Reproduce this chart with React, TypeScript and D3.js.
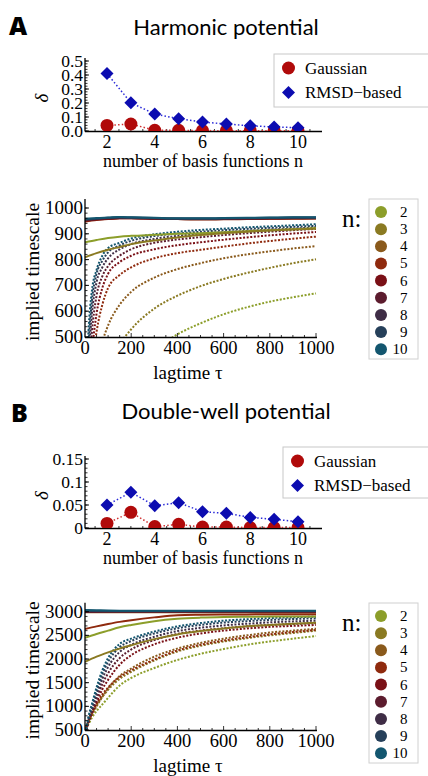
import React from 'react';
import * as d3 from 'd3';

// basis set sizes and the two error measures (delta)
const basisN = [2, 3, 4, 5, 6, 7, 8, 9, 10];
const harmonicGaussian = [0.04, 0.05, 0.005, 0.005, 0.003, 0.002, 0.002, 0.002, 0.002];
const harmonicRmsd = [0.41, 0.202, 0.121, 0.088, 0.064, 0.05, 0.037, 0.029, 0.024];
const doubleWellGaussian = [0.01, 0.034, 0.003, 0.008, 0.002, 0.002, 0.001, 0.001, 0.001];
const doubleWellRmsd = [0.05, 0.0776, 0.0485, 0.055, 0.0355, 0.032, 0.023, 0.019, 0.0137];

const nColors = ['#8c9e2a', '#8a7a22', '#8a5a1c', '#8f2a0e', '#7a1016', '#5c1c2e', '#3f2d46', '#26405a', '#13566f'];

// lag times of the sampled implied timescales
const lagDotted = [5, 15, 30, 50, 75, 100, 150, 200, 300, 400, 500, 600, 700, 800, 900, 1000];
const lagSolid = [0, 50, 100, 150, 200, 300, 400, 500, 600, 700, 800, 900, 1000];

// harmonic potential, dotted (RMSD-based), one row per n = 2..10
const harmonicDotted = [
  [15, 45, 85, 135, 190, 235, 310, 365, 450, 510, 553, 588, 615, 637, 654, 669],
  [30, 80, 150, 230, 310, 370, 470, 530, 610, 660, 697, 725, 748, 768, 786, 801],
  [50, 140, 260, 380, 480, 545, 625, 675, 730, 763, 786, 805, 820, 832, 843, 852],
  [90, 220, 380, 520, 625, 690, 740, 770, 805, 825, 838, 850, 862, 872, 881, 889],
  [110, 260, 440, 590, 690, 745, 790, 815, 840, 856, 867, 877, 886, 894, 901, 907],
  [150, 330, 520, 660, 735, 775, 815, 840, 865, 878, 887, 895, 902, 908, 914, 919],
  [200, 400, 590, 712, 770, 805, 840, 860, 880, 892, 900, 906, 911, 916, 920, 925],
  [250, 460, 640, 745, 795, 828, 855, 873, 891, 901, 908, 914, 919, 923, 927, 931],
  [300, 520, 680, 760, 815, 845, 865, 882, 898, 908, 915, 920, 925, 929, 933, 937],
];
// harmonic potential, solid (Gaussian)
const harmonicSolid = [
  [867, 876, 884, 889, 892, 896, 900, 902, 906, 910, 914, 918, 922],
  [809, 825, 838, 849, 860, 874, 886, 895, 902, 908, 913, 917, 920],
  [952, 956, 959, 961, 961, 959, 957, 956, 957, 958, 959, 960, 960],
  [947, 953, 957, 960, 960, 959, 957, 956, 956, 957, 958, 958, 959],
  [950, 955, 958, 960, 960, 958, 957, 956, 957, 958, 959, 960, 960],
  [953, 957, 960, 962, 961, 959, 958, 957, 958, 959, 960, 961, 961],
  [954, 958, 961, 963, 962, 960, 958, 958, 959, 960, 961, 962, 962],
  [956, 959, 962, 964, 963, 961, 959, 959, 960, 961, 962, 963, 963],
  [958, 961, 963, 965, 964, 962, 960, 960, 961, 962, 963, 964, 964],
];

// double-well potential, dotted (RMSD-based)
const doubleWellDotted = [
  [520, 620, 760, 900, 1040, 1180, 1440, 1600, 1810, 1980, 2110, 2210, 2300, 2370, 2430, 2486],
  [550, 680, 850, 1020, 1200, 1350, 1580, 1730, 1970, 2160, 2280, 2370, 2440, 2500, 2550, 2600],
  [520, 650, 820, 1000, 1200, 1380, 1640, 1800, 2050, 2220, 2340, 2430, 2500, 2560, 2600, 2640],
  [560, 700, 880, 1060, 1250, 1400, 1620, 1760, 1990, 2180, 2300, 2390, 2460, 2520, 2570, 2613],
  [500, 660, 840, 1080, 1360, 1560, 1880, 2080, 2310, 2450, 2540, 2600, 2645, 2680, 2700, 2720],
  [500, 680, 880, 1160, 1470, 1700, 2020, 2200, 2400, 2530, 2600, 2650, 2690, 2720, 2740, 2760],
  [500, 700, 930, 1240, 1580, 1830, 2150, 2300, 2470, 2590, 2660, 2710, 2745, 2775, 2795, 2810],
  [510, 740, 990, 1320, 1680, 1940, 2250, 2380, 2540, 2650, 2720, 2770, 2800, 2825, 2845, 2860],
  [520, 780, 1050, 1400, 1760, 2020, 2320, 2430, 2580, 2690, 2760, 2810, 2840, 2865, 2882, 2895],
];
// double-well potential, solid (Gaussian)
const doubleWellSolid = [
  [2450, 2530, 2600, 2670, 2720, 2800, 2850, 2875, 2888, 2893, 2896, 2898, 2900],
  [1940, 2050, 2140, 2220, 2290, 2420, 2520, 2590, 2645, 2690, 2720, 2745, 2765],
  [2988, 2988, 2989, 2990, 2990, 2990, 2990, 2990, 2990, 2990, 2990, 2990, 2990],
  [2634, 2690, 2740, 2785, 2820, 2880, 2925, 2935, 2940, 2943, 2945, 2946, 2947],
  [2995, 2996, 2998, 2999, 3000, 3000, 3001, 3001, 3001, 3001, 3001, 3001, 3001],
  [3004, 3005, 3005, 3005, 3005, 3005, 3005, 3005, 3005, 3005, 3005, 3005, 3005],
  [3012, 3011, 3010, 3010, 3010, 3010, 3010, 3010, 3010, 3010, 3010, 3010, 3010],
  [3020, 3017, 3015, 3014, 3013, 3013, 3013, 3013, 3013, 3013, 3013, 3013, 3013],
  [3035, 3030, 3025, 3022, 3020, 3020, 3020, 3020, 3020, 3020, 3020, 3020, 3020],
];

const serif = "'Liberation Serif', 'DejaVu Serif', serif";
const sans = "Lato, 'Open Sans', sans-serif";
const red = '#b00a0a';
const blue = '#0c0cb0';

function Diamond({ cx, cy, r, fill }) {
  return <path d={`M${cx},${cy - r}L${cx + r},${cy}L${cx},${cy + r}L${cx - r},${cy}Z`} fill={fill} />;
}

function DeltaPlot({ id, top, bottom, yMax, yTicks, fmt, minorStep, gauss, rmsd, legendY }) {
  const x = d3.scaleLinear().domain([2, 10]).range([107, 298]);
  const y = d3.scaleLinear().domain([0, yMax]).range([bottom, top]);
  const line = d3.line<number>().x((_, i) => x(basisN[i])).y(d => y(d));
  const minor = d3.range(0, yMax + 1e-9, minorStep);
  return (
    <g>
      <defs>
        <clipPath id={id}>
          <rect x={85} y={top - 12} width={240} height={bottom - top + 12} />
        </clipPath>
      </defs>
      {/* axes */}
      <line x1={85} x2={322} y1={bottom + 0.5} y2={bottom + 0.5} stroke="#000" strokeWidth={1.3} />
      <line x1={85} x2={85} y1={top - 3} y2={bottom + 0.5} stroke="#000" strokeWidth={1.3} />
      {d3.range(1.5, 11, 0.5).filter(v => x(v) > 86 && x(v) < 322).map(v => (
        <line key={'xt' + v} x1={x(v)} x2={x(v)} y1={bottom} y2={bottom - (v % 2 === 0 ? 4 : 2)} stroke="#000" strokeWidth={0.8} />
      ))}
      {minor.map(v => (
        <line key={'ym' + v} x1={85} x2={87.5} y1={y(v)} y2={y(v)} stroke="#000" strokeWidth={0.8} />
      ))}
      {yTicks.map(v => (
        <g key={'yt' + v}>
          <line x1={85} x2={89} y1={y(v)} y2={y(v)} stroke="#000" strokeWidth={0.9} />
          <text x={83} y={y(v) + 5.5} textAnchor="end" fontFamily={serif} fontSize={17.5}>{fmt(v)}</text>
        </g>
      ))}
      {[2, 4, 6, 8, 10].map(v => (
        <text key={'xl' + v} x={x(v)} y={bottom + 17} textAnchor="middle" fontFamily={serif} fontSize={18}>{v}</text>
      ))}
      <text x={203} y={bottom + 36} textAnchor="middle" fontFamily={serif} fontSize={18}>number of basis functions n</text>
      <text transform={`translate(${48},${(top + bottom) / 2 + 2}) rotate(-90)`} textAnchor="middle" fontFamily={serif} fontStyle="italic" fontSize={19}>δ</text>
      {/* data */}
      <g clipPath={`url(#${id})`}>
        <path d={line(gauss)} fill="none" stroke="#d03030" strokeWidth={1.5} strokeDasharray="1.5 2.2" />
        <path d={line(rmsd)} fill="none" stroke="#2a2ad8" strokeWidth={1.5} strokeDasharray="1.5 2.2" />
        {gauss.map((v, i) => <circle key={'g' + i} cx={x(basisN[i])} cy={y(v)} r={6.5} fill={red} />)}
        {rmsd.map((v, i) => <Diamond key={'r' + i} cx={x(basisN[i])} cy={y(v)} r={6.5} fill={blue} />)}
      </g>
      {/* legend */}
      <rect x={legendY.x} y={legendY.y} width={200} height={legendY.h} fill="#fff" stroke="#c8c8c8" strokeWidth={1} />
      <circle cx={legendY.x + 14.5} cy={legendY.y + 14} r={6.5} fill={red} />
      <text x={legendY.x + 31} y={legendY.y + 19.5} fontFamily={serif} fontSize={17}>Gaussian</text>
      <Diamond cx={legendY.x + 14.5} cy={legendY.y + 38.5} r={6.5} fill={blue} />
      <text x={legendY.x + 31} y={legendY.y + 44} fontFamily={serif} fontSize={17}>RMSD−based</text>
    </g>
  );
}

function TimescalePlot({ id, yTop, yBottom, yMax, yTicks, minorStep, dotted, solid, legendTop }) {
  const x = d3.scaleLinear().domain([0, 1000]).range([85, 316]);
  const y = d3.scaleLinear().domain([500, yMax]).range([yBottom, yTop]);
  const lineDot = d3.line<number>().x((_, i) => x(lagDotted[i])).y(d => y(d)).curve(d3.curveMonotoneX);
  const lineSolid = d3.line<number>().x((_, i) => x(lagSolid[i])).y(d => y(d)).curve(d3.curveMonotoneX);
  const plotTop = yTop - 9;
  return (
    <g>
      <defs>
        <clipPath id={id}>
          <rect x={85} y={plotTop} width={233} height={yBottom - plotTop} />
        </clipPath>
      </defs>
      <g clipPath={`url(#${id})`}>
        {dotted.map((vals, i) => (
          <path key={'d' + i} d={lineDot(vals)} fill="none" stroke={nColors[i]} strokeWidth={2} strokeDasharray="2 1.6" />
        ))}
        {solid.map((vals, i) => (
          <path key={'s' + i} d={lineSolid(vals)} fill="none" stroke={nColors[i]} strokeWidth={2} />
        ))}
      </g>
      {/* axes */}
      <line x1={85} x2={317} y1={yBottom + 0.5} y2={yBottom + 0.5} stroke="#000" strokeWidth={1.3} />
      <line x1={85} x2={85} y1={plotTop} y2={yBottom + 0.5} stroke="#000" strokeWidth={1.3} />
      {d3.range(50, 1001, 50).map(v => (
        <line key={'xt' + v} x1={x(v)} x2={x(v)} y1={yBottom} y2={yBottom - (v % 200 === 0 ? 4 : 2)} stroke="#000" strokeWidth={0.8} />
      ))}
      {d3.range(500, yMax + 1, minorStep).map(v => (
        <line key={'ym' + v} x1={85} x2={87.5} y1={y(v)} y2={y(v)} stroke="#000" strokeWidth={0.8} />
      ))}
      {yTicks.map(v => (
        <g key={'yt' + v}>
          <line x1={85} x2={89} y1={y(v)} y2={y(v)} stroke="#000" strokeWidth={0.9} />
          <text x={83} y={y(v) + 6} textAnchor="end" fontFamily={serif} fontSize={19}>{v}</text>
        </g>
      ))}
      {[0, 200, 400, 600, 800, 1000].map(v => (
        <text key={'xl' + v} x={x(v)} y={yBottom + 17} textAnchor="middle" fontFamily={serif} fontSize={18.5}>{v}</text>
      ))}
      <text x={188} y={yBottom + 42} textAnchor="middle" fontFamily={serif} fontSize={19}>lagtime τ</text>
      <text transform={`translate(${39},${(plotTop + yBottom) / 2 + 4}) rotate(-90)`} textAnchor="middle" fontFamily={serif} fontSize={19.5}>implied timescale</text>
      {/* n legend */}
      <text x={342} y={legendTop + 28} fontFamily={serif} fontSize={25}>n:</text>
      <rect x={369} y={legendTop} width={49} height={160} fill="#fff" stroke="#d0d0d0" strokeWidth={1} />
      {basisN.map((n, i) => (
        <g key={'lg' + n}>
          <circle cx={381} cy={legendTop + 13 + i * 17.15} r={6} fill={nColors[i]} />
          <text x={407.5} y={legendTop + 18 + i * 17.15} textAnchor="end" fontFamily={serif} fontSize={15}>{n}</text>
        </g>
      ))}
    </g>
  );
}

export default function App() {
  return (
    <svg width={428} height={776} style={{ position: 'absolute', left: 0, top: 0, background: '#fff' }}>
      <rect width={428} height={776} fill="#fff" />
      {/* panel A */}
      <text x={9} y={35} fontFamily="'Open Sans', 'DejaVu Sans', sans-serif" fontWeight={800} fontSize={25}>A</text>
      <text x={226} y={35} textAnchor="middle" fontFamily={sans} fontSize={22}>Harmonic potential</text>
      <DeltaPlot id="clipA1" top={61} bottom={131} yMax={0.5} yTicks={[0, 0.1, 0.2, 0.3, 0.4, 0.5]}
        fmt={v => v.toFixed(1)} minorStep={0.02} gauss={harmonicGaussian} rmsd={harmonicRmsd}
        legendY={{ x: 274, y: 54, h: 53 }} />
      <TimescalePlot id="clipA2" yTop={208} yBottom={337} yMax={1000} yTicks={[500, 600, 700, 800, 900, 1000]}
        minorStep={20} dotted={harmonicDotted} solid={harmonicSolid} legendTop={199} />
      {/* panel B */}
      <text x={11} y={422} fontFamily="'Open Sans', 'DejaVu Sans', sans-serif" fontWeight={800} fontSize={25}>B</text>
      <text x={226} y={419} textAnchor="middle" fontFamily={sans} fontSize={22}>Double-well potential</text>
      <DeltaPlot id="clipB1" top={459} bottom={528} yMax={0.15} yTicks={[0, 0.05, 0.1, 0.15]}
        fmt={v => (v === 0 ? '0' : String(v))} minorStep={0.01} gauss={doubleWellGaussian} rmsd={doubleWellRmsd}
        legendY={{ x: 283, y: 447, h: 51 }} />
      <TimescalePlot id="clipB2" yTop={611.7} yBottom={730} yMax={3000} yTicks={[500, 1000, 1500, 2000, 2500, 3000]}
        minorStep={100} dotted={doubleWellDotted} solid={doubleWellSolid} legendTop={603} />
    </svg>
  );
}
